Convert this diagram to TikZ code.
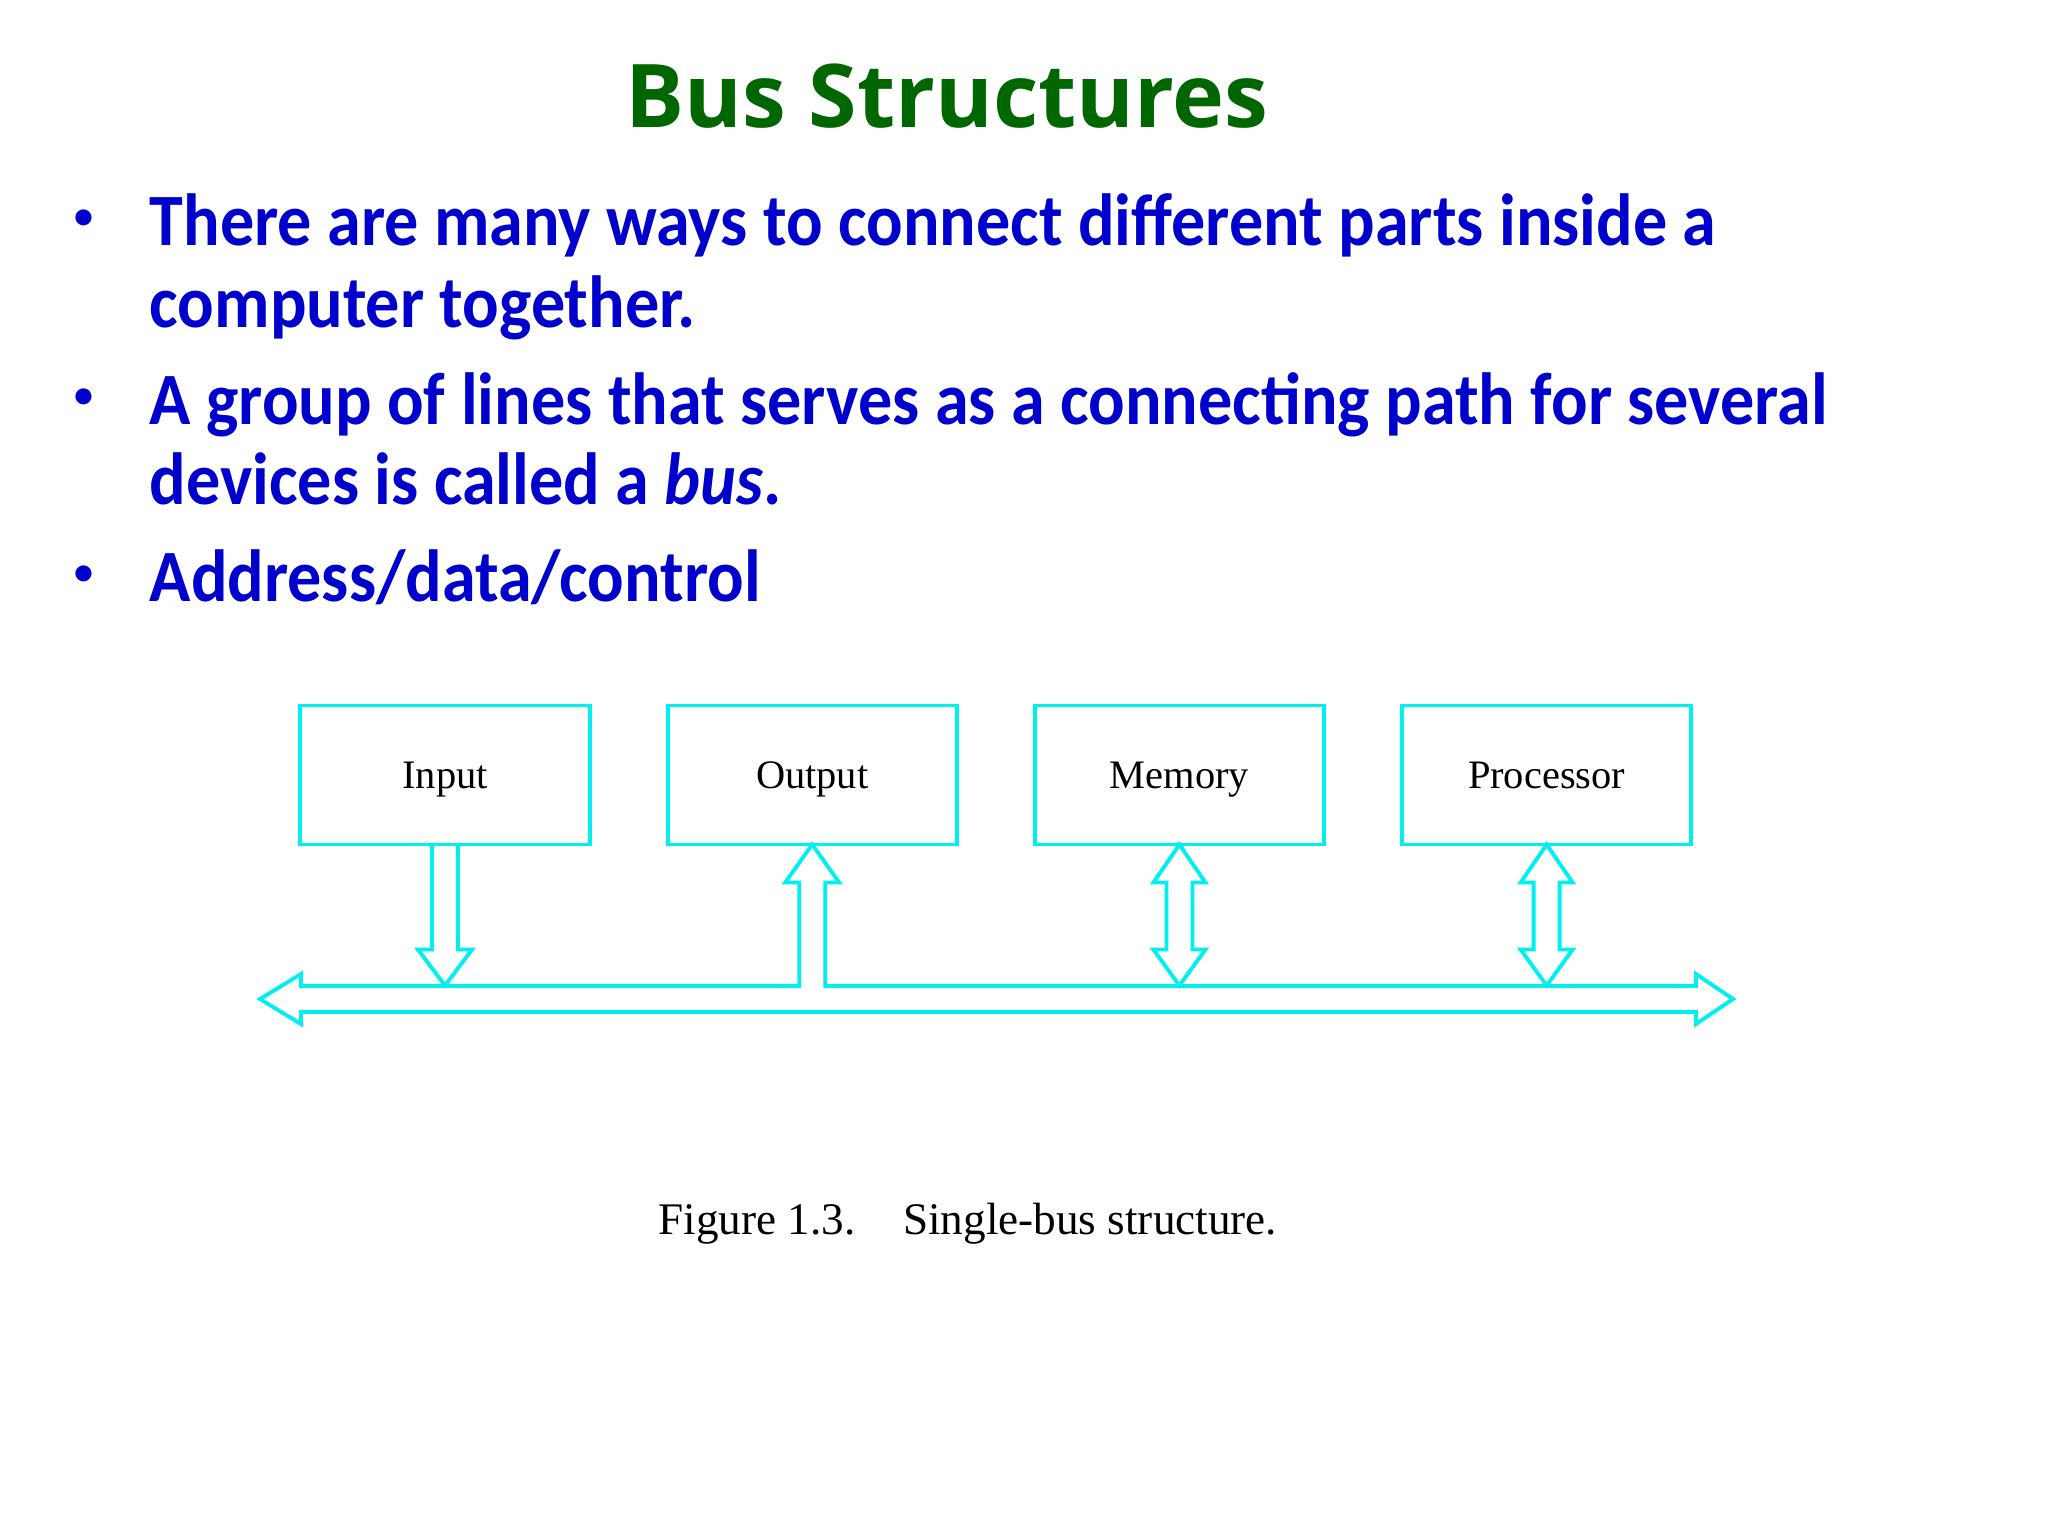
\documentclass[tikz,border=0pt]{standalone}
\usepackage{fontspec}
\setmainfont{Liberation Serif}
\newfontfamily\slidefont[FakeStretch=0.923]{Carlito}
\newfontfamily\dotfont{Carlito}
\newfontfamily\titlefont{Open Sans}
\usetikzlibrary{positioning,calc}
\definecolor{titlegreen}{RGB}{0,102,0}
\definecolor{textblue}{RGB}{0,0,204}
\definecolor{buscyan}{RGB}{0,240,240}

\begin{document}
\begin{tikzpicture}[
        x=0.01cm, y=-0.01cm,
        node distance=0.78cm,
        title/.style={font=\titlefont\bfseries\fontsize{25}{30}\selectfont, text=titlegreen, anchor=base, inner sep=0pt},
        bulletline/.style={font=\slidefont\bfseries\fontsize{21}{25}\selectfont, text=textblue, anchor=base west, inner sep=0pt},
        dotmark/.style={font=\dotfont\bfseries\fontsize{10.8}{13}\selectfont, text=textblue, anchor=base west, inner sep=0pt},
        unit/.style={rectangle, draw=buscyan, line width=1.1pt, outer sep=0pt, minimum width=2.89cm, minimum height=1.39cm,
            text height=9pt, text depth=1.6pt, font=\fontsize{11.5}{14}\selectfont},
        fatarrow/.style={draw=buscyan, line width=1.1pt, line join=miter},
        caption/.style={font=\fontsize{12.85}{15}\selectfont, anchor=base west, inner sep=0pt}
    ]
        \fill[white] (0,0) rectangle (2048,1536);
        \useasboundingbox (0,0) rectangle (2048,1536);

        \node (title) [title] at (947,127) {Bus Structures};

        \node (dot1) [dotmark] at (74,228) {•};
        \node (l1) [bulletline] at (149,245) {There are many ways to connect different parts inside a};
        \node (l2) [bulletline] at (149,327) {computer together.};
        \node (dot2) [dotmark] at (74,407) {•};
        \node (l3) [bulletline] at (149,424) {A group of lines that serves as a connecting path for several};
        \node (l4) [bulletline] at (149,504) {devices is called a \textit{bus}.};
        \node (dot3) [dotmark] at (74,584) {•};
        \node (l5) [bulletline] at (149,601) {Address/data/control};

        \node (in) [unit] at (445,775) {Input};
        \node (out) [unit, right=of in] {Output};
        \node (mem) [unit, right=of out] {Memory};
        \node (cpu) [unit, right=of mem] {Processor};

        \coordinate (busL) at (260,999);
        \coordinate (busR) at (1733,999);
        \coordinate (busT) at (0,986);
        \coordinate (outL) at ($(out.south)+(-13,0)$);
        \coordinate (outR) at ($(out.south)+(13,0)$);

        % bus with the output arrow joined into it
        \draw [fatarrow] (busL) -- ++(41,-25) -- ++(0,12)
            -- (outL |- busT) -- ($(outL)+(0,38)$) -- ($(outL)+(-14,38)$)
            -- (out.south)
            -- ($(outR)+(14,38)$) -- ($(outR)+(0,38)$) -- (outR |- busT)
            -- ($(busR)+(-37,-13)$) -- ($(busR)+(-37,-25)$) -- (busR)
            -- ($(busR)+(-37,25)$) -- ($(busR)+(-37,13)$)
            -- ($(busL)+(41,13)$) -- ($(busL)+(41,25)$) -- cycle;

        \draw [fatarrow, shift={(in.south)}] (-13,0) -- (-13,105) -- (-27,105) -- (0,141) -- (27,105) -- (13,105) -- (13,0);
        \draw [fatarrow, shift={(mem.south)}] (0,0) -- (26,38) -- (13,38) -- (13,105) -- (26,105) -- (0,141) -- (-26,105) -- (-13,105) -- (-13,38) -- (-26,38) -- cycle;
        \draw [fatarrow, shift={(cpu.south)}] (0,0) -- (26,38) -- (13,38) -- (13,105) -- (26,105) -- (0,141) -- (-26,105) -- (-13,105) -- (-13,38) -- (-26,38) -- cycle;

        \node (cap) [caption] at (658,1234) {Figure 1.3.\hspace{13.5pt}Single-bus structure.};
    \end{tikzpicture}
\end{document}
